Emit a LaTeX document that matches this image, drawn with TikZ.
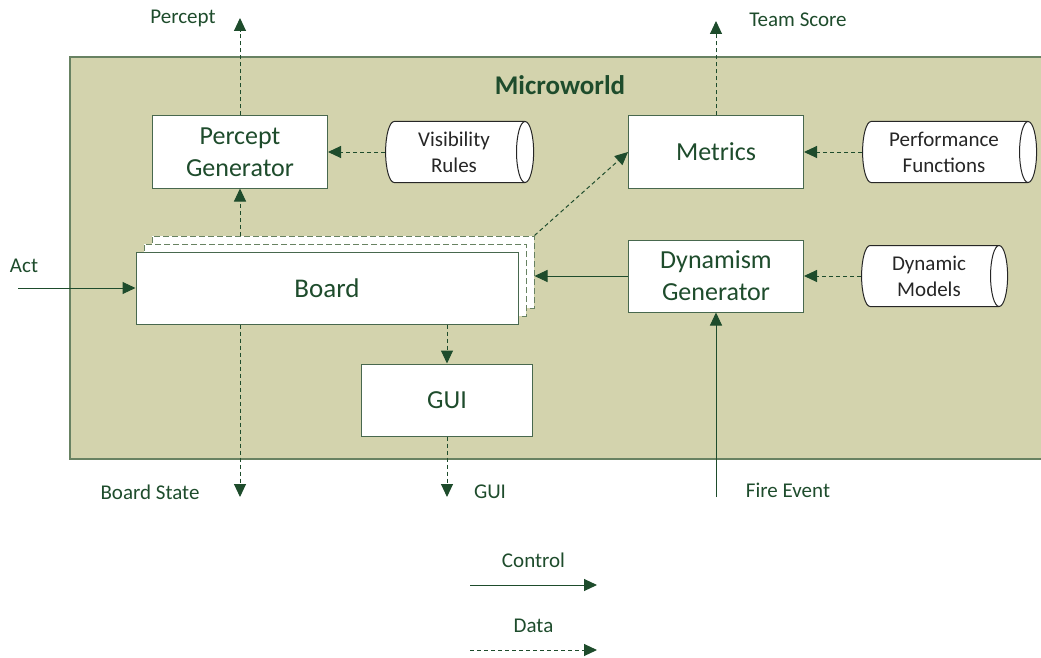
\documentclass[tikz,border=0pt]{standalone}
\usepackage{fontspec}
\setmainfont{Carlito}
\usetikzlibrary{positioning,shapes.geometric,arrows.meta}

\definecolor{mwfill}{RGB}{211,211,173}
\definecolor{mwgreen}{RGB}{30,76,44}
\definecolor{mwedge}{RGB}{104,130,98}
\definecolor{mwbox}{RGB}{72,104,78}

\begin{document}
\begin{tikzpicture}[x=1pt,y=1pt,node distance=2cm,on grid,
    >={Triangle[length=13pt,width=12pt]},
    box/.style={draw=mwbox,fill=white,line width=1pt,inner sep=2pt,
      minimum width=175pt,minimum height=72pt,align=center,text=mwgreen,
      font=\fontsize{26}{32}\selectfont},
    wide/.style={box,minimum width=382pt,font=\fontsize{27}{32}\selectfont},
    shadowbox/.style={wide,draw=mwedge,dashed,dash pattern=on 6pt off 3pt},
    store/.style={cylinder,draw=black!85,fill=white,line width=1pt,
      shape aspect=0.4,minimum height=148pt,minimum width=61pt,inner sep=1pt,
      align=center,text=black!85,font=\fontsize{21}{26}\selectfont},
    lbl/.style={text=mwgreen,inner sep=0pt,font=\fontsize{21}{25}\selectfont},
    ctrl/.style={->,mwgreen,line width=1pt},
    data/.style={->,mwgreen,line width=1pt,dashed,dash pattern=on 4pt off 3pt}]
   \useasboundingbox (0,0) rectangle (1041,-658);
   \draw[draw=mwedge,fill=mwfill,line width=1.5pt] (70,-57) rectangle (1060,-459);
   \node[text=mwgreen,font=\fontsize{27}{32}\selectfont\bfseries] (title) at (560,-85) {Microworld};

   \node[box] (pgen) at (240,-152) {Percept\\Generator};
   \node[store] (vis) [right=214pt of pgen] {Visibility\\Rules};
   \node[box] (metrics) [right=476pt of pgen] {Metrics};
   \node[store,minimum height=174pt] (perf) [right=228pt of metrics] {Performance\\Functions};
   \node[shadowbox] (boardc) [below right=120pt and 103pt of pgen] {};
   \node[shadowbox] (boardb) [below left=8pt and 8pt of boardc] {};
   \node[wide] (board) [below left=8pt and 8pt of boardb] {Board};
   \node[box] (dyn) [below=124pt of metrics] {Dynamism\\Generator};
   \node[store,minimum height=146pt] (dynmod) [right=213pt of dyn] {Dynamic\\Models};
   \node[box,minimum width=171pt] (gui) [below right=112pt and 120pt of board] {GUI};

   \coordinate (actin) at (18,-288);
   \coordinate (perceptout) at (240,-18);
   \coordinate (scoreout) at (716,-21);
   \coordinate (stateout) at (240,-497);
   \coordinate (guiout) at (447,-497);
   \coordinate (firein) at (716,-497);

   \node[lbl] (acttxt) at (24,-266) {Act};
   \node[lbl] (percepttxt) at (183,-18) {Percept};
   \node[lbl] (scoretxt) at (798,-20) {Team Score};
   \node[lbl] (statetxt) at (150,-492) {Board State};
   \node[lbl] (guitxt) at (490,-492) {GUI};
   \node[lbl] (firetxt) at (788,-490) {Fire Event};

    \path[ctrl]
    (actin) edge (board)
    (dyn.west) edge (dyn.west -| boardc.east)
    (firein) edge (dyn);
    \path[data]
    (pgen) edge (perceptout)
    (vis) edge (pgen)
    (pgen |- boardc.north) edge (pgen)
    (boardc.north east) edge (metrics.west)
    (metrics) edge (scoreout)
    (perf) edge (metrics)
    (dynmod) edge (dyn)
    (gui |- board.south) edge (gui)
    (pgen |- board.south) edge (stateout)
    (gui) edge (guiout);

   % legend
   \coordinate (ctlA) at (470,-585);
   \coordinate (ctlB) at (597,-585);
   \coordinate (datA) at (470,-650);
   \coordinate (datB) at (597,-650);
    \path[ctrl] (ctlA) edge node[lbl,above=17pt] {Control} (ctlB);
    \path[data] (datA) edge node[lbl,above=17pt] {Data} (datB);
\end{tikzpicture}
\end{document}
